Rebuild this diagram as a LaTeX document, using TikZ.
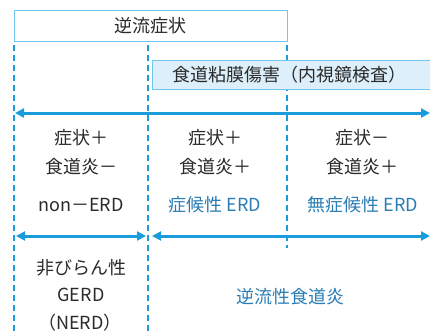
\documentclass[tikz,border=0pt]{standalone}
\usepackage{fontspec}
\setmainfont{Noto Sans CJK JP}
\usetikzlibrary{arrows.meta}
\definecolor{lineblue}{HTML}{1A9CDC}
\definecolor{textblue}{HTML}{2A7DB5}
\definecolor{boxline}{HTML}{72C6EE}
\definecolor{boxfill}{HTML}{DDEFFA}
\definecolor{ink}{HTML}{2A2A2A}
\tikzset{
  lbl/.style={font=\fontsize{18}{21}\selectfont, text=ink, inner sep=0pt, align=center},
  blbl/.style={lbl, text=textblue},
  divider/.style={draw=lineblue, line width=1.8pt, dash pattern=on 6pt off 4pt},
  bar/.style={draw=lineblue, line width=3pt, >={Triangle[length=9pt,width=9pt]}, <->},
  headbox/.style={draw=boxline, line width=1pt, inner sep=0pt},
}
\begin{document}
\begin{tikzpicture}[x=1pt,y=-1pt]
\useasboundingbox (0,0) rectangle (430,335);
% header boxes
\draw[headbox, fill=white] (14,10) rectangle (287,41);
\node[lbl] (hdr) at (150,25.5) {逆流症状};
% dividers
\coordinate (d1t) at (14,45); \coordinate (d1b) at (14,335);
\coordinate (d2t) at (148,45); \coordinate (d2b) at (148,335);
\coordinate (d3t) at (287,45); \coordinate (d3b) at (287,248);
\draw[divider] (d1t) -- (d1b);
\draw[divider] (d2t) -- (d2b);
\draw[divider] (d3t) -- (d3b);
\draw[headbox, fill=boxfill] (152,60) rectangle (432,89);
\node[lbl] (hdr2) at (289,75) {食道粘膜傷害（内視鏡検査）};
% arrows
\coordinate (a1l) at (15,113); \coordinate (a1r) at (430,113);
\draw[bar] (a1l) -- (a1r);
\coordinate (a2l) at (16,236); \coordinate (a2r) at (146,236);
\draw[bar] (a2l) -- (a2r);
\coordinate (a3l) at (152,236); \coordinate (a3r) at (430,236);
\draw[bar] (a3l) -- (a3r);
% column 1
\node[lbl] (c1a) at (81,138) {症状＋};
\node[lbl] (c1b) at (81,167) {食道炎－};
\node[lbl] (c1c) at (81,205) {non－ERD};
% column 2
\node[lbl] (c2a) at (215,138) {症状＋};
\node[lbl] (c2b) at (215,167) {食道炎＋};
\node[blbl] (c2c) at (215,205) {症候性 ERD};
% column 3
\node[lbl] (c3a) at (362,138) {症状－};
\node[lbl] (c3b) at (362,167) {食道炎＋};
\node[blbl] (c3c) at (363,205) {無症候性 ERD};
% bottom
\node[lbl] (n1) at (81,268) {非びらん性};
\node[lbl] (n2) at (81,295) {GERD};
\node[lbl] (n3) at (80,323) {（NERD）};
\node[blbl] (rf) at (290,297) {逆流性食道炎};
\end{tikzpicture}
\end{document}
